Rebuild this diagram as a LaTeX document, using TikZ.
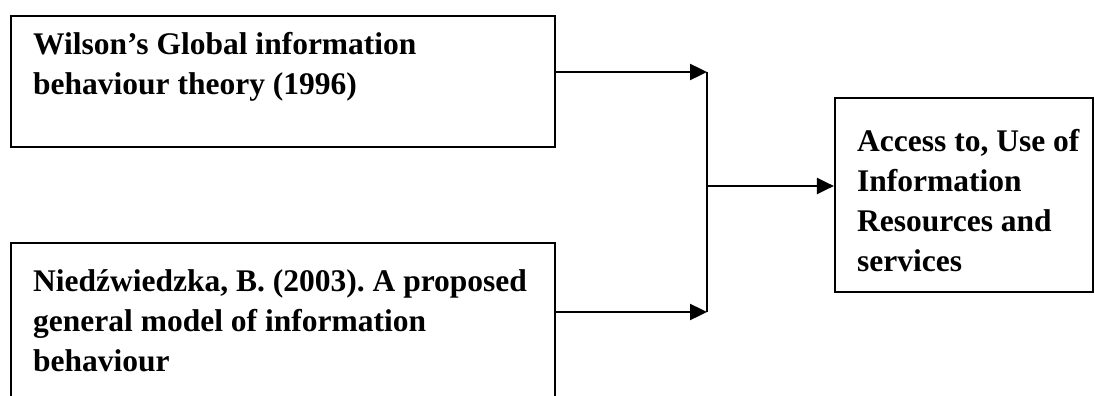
\documentclass[tikz,border=0pt]{standalone}
\usepackage{fontspec}
\setmainfont{Liberation Serif}
\usetikzlibrary{arrows.meta}
\begin{document}
\frenchspacing
\begin{tikzpicture}[x=1pt,y=-1pt,
  box/.style={draw, line width=2.2pt, inner sep=0pt, rectangle},
  txt/.style={anchor=base west, inner sep=0pt, font=\fontsize{31.5}{40}\selectfont\bfseries},
  conn/.style={line width=2.4pt},
  arr/.style={conn, -{Triangle[length=17pt,width=16pt]}}]
\useasboundingbox (0,0) rectangle (1095,396);
\clip (0,0) rectangle (1095,396);
\node[box, minimum width=544pt, minimum height=131pt] (box1) at (283,81.5) {};
\node[box, minimum width=544pt, minimum height=177pt] (box2) at (283,331.5) {};
\node[box, minimum width=258pt, minimum height=194pt] (box3) at (964,195) {};
\node[txt] (t1) at (33,55) {\parbox[t]{520pt}{Wilson’s Global information\\behaviour theory (1996)}};
\node[txt] (t2) at (33,291) {\parbox[t]{520pt}{Niedźwiedzka, B. (2003). A proposed\\general model of information\\behaviour}};
\node[txt] (t3) at (857,151) {\parbox[t]{235pt}{Access to, Use of\\Information\\Resources and\\services}};
\coordinate (j1) at (707,72);
\coordinate (j2) at (707,312);
\coordinate (jm) at (707,186);
\draw[arr] (box1.east |- j1) -- (j1);
\draw[arr] (box2.east |- j2) -- (j2);
\draw[conn] (j1) -- (j2);
\draw[arr] (jm) -- (box3.west |- jm);
\end{tikzpicture}
\end{document}
